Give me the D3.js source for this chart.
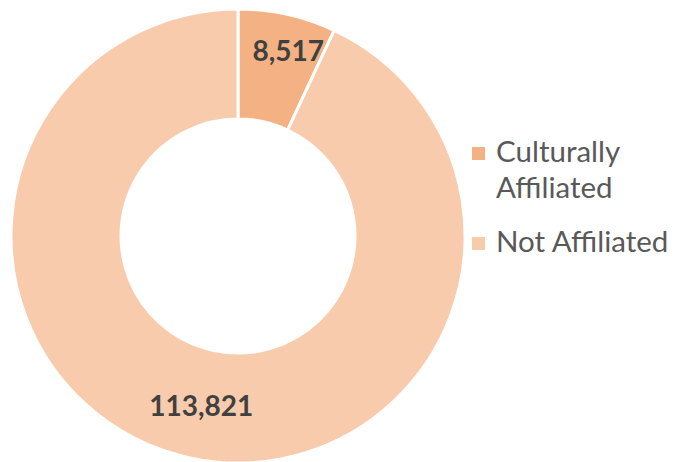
<!DOCTYPE html>
<html lang="en">
<head>
<meta charset="utf-8">
<title>donut</title>
<script src="https://d3js.org/d3.v7.min.js"></script>
<style>
  body { margin:0; background:#fff; }
  .lbl { font-family: Lato, "Open Sans", sans-serif; font-weight:bold; fill:#404040; text-anchor:middle; }
  .leg text { font-family: Lato, "Open Sans", sans-serif; fill:#595959; }
</style>
</head>
<body>
<div id="chart"></div>
<script>
// data
var categories = ["Culturally Affiliated", "Not Affiliated"];
var legendLines = [["Culturally", "Affiliated"], ["Not Affiliated"]];
var values = [8517, 113821];
var colors = ["#F4B183", "#F8CBAD"];

var w = 679, h = 462;
var cx = 238, cy = 236;
var outerR = 227, innerR = 117;

var svg = d3.select("#chart").append("svg")
  .attr("width", w)
  .attr("height", h);

var color = d3.scaleOrdinal().domain(categories).range(colors);
var fmt = d3.format(",");

var pie = d3.pie().sort(null).value(function(d) { return d; });
var arc = d3.arc().innerRadius(innerR).outerRadius(outerR);

var g = svg.append("g").attr("transform", "translate(" + cx + "," + cy + ")");

var arcs = pie(values);

g.selectAll("path")
  .data(arcs)
  .enter()
  .append("path")
  .attr("d", arc)
  .attr("fill", function(d, i) { return color(categories[i]); })
  .attr("stroke", "#fff")
  .attr("stroke-width", 3);

// data labels (radius + small nudge, like excel's best fit)
var labelR = [190, 174];
var labelDx = [9, 1];
g.selectAll("text.lbl")
  .data(arcs)
  .enter()
  .append("text")
  .attr("class", "lbl")
  .attr("font-size", 28)
  .attr("transform", function(d, i) {
    var c = d3.arc().innerRadius(labelR[i]).outerRadius(labelR[i]).centroid(d);
    return "translate(" + (c[0] + labelDx[i]) + "," + (c[1] + 10) + ")";
  })
  .text(function(d) { return fmt(d.value); });

// legend
var legY = [162, 252];
var leg = svg.append("g").attr("class", "leg");
categories.forEach(function(c, i) {
  var row = leg.append("g").attr("transform", "translate(472," + legY[i] + ")");
  row.append("rect")
    .attr("x", 0).attr("y", -15)
    .attr("width", 13).attr("height", 13)
    .attr("fill", color(c));
  legendLines[i].forEach(function(t, j) {
    row.append("text")
      .attr("x", 24)
      .attr("y", j * 36)
      .attr("font-size", 29.5)
      .text(t);
  });
});
</script>
</body>
</html>
